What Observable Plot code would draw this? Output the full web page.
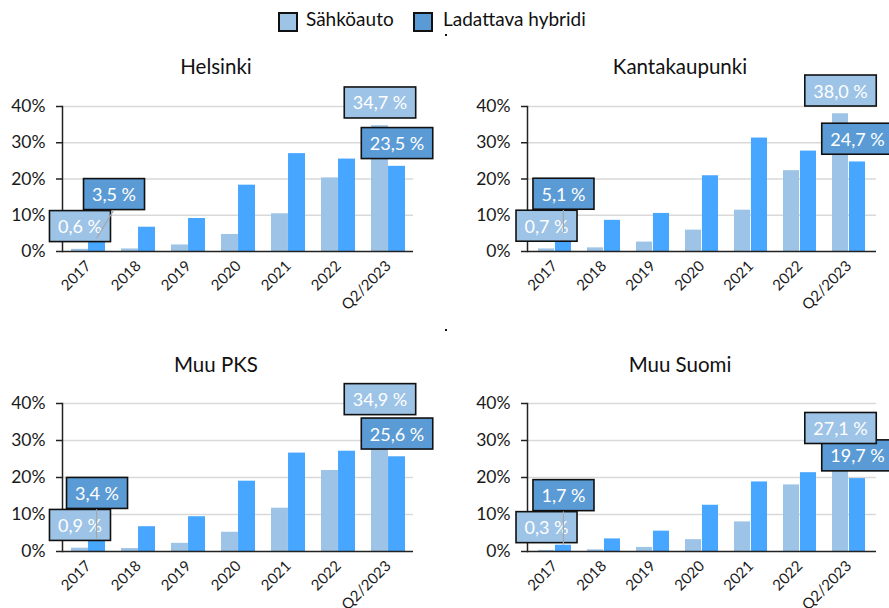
<!DOCTYPE html>
<html><head><meta charset="utf-8">
<script src="https://cdn.jsdelivr.net/npm/d3@7"></script>
<script src="https://cdn.jsdelivr.net/npm/@observablehq/plot@0.6"></script>
<style>
html,body{margin:0;padding:0;background:#fff;}
#root{position:relative;width:889px;height:608px;overflow:hidden;font-family:Lato,"Open Sans",sans-serif;}
.panel{position:absolute;}
.leg{position:absolute;top:12px;width:16px;height:16px;border:2px solid #111;}
.legt{position:absolute;top:7px;font-size:19px;color:#111;}
.dot{position:absolute;width:2px;height:2px;background:#111;}
</style>
</head><body>
<div id="root">
  <div class="leg" style="left:278px;background:#9DC3E6"></div>
  <div class="legt" style="left:306px">Sähköauto</div>
  <div class="leg" style="left:413px;background:#5B9BD5"></div>
  <div class="legt" style="left:443px">Ladattava hybridi</div>
  <div class="dot" style="left:445px;top:34px"></div>
  <div class="dot" style="left:445px;top:329px"></div>
</div>
<script>
const years = ["2017","2018","2019","2020","2021","2022","Q2/2023"];
const series = ["Sähköauto","Ladattava hybridi"];
const regions = ["Helsinki","Kantakaupunki","Muu PKS","Muu Suomi"];
const yTicks = [0,10,20,30,40];

const bevHelsinki  = [0.6, 0.7, 1.8, 4.7, 10.4, 20.3, 34.7];
const phevHelsinki = [3.5, 6.7, 9.1, 18.3, 27.0, 25.5, 23.5];
const bevKanta     = [0.7, 1.0, 2.6, 5.9, 11.4, 22.3, 38.0];
const phevKanta    = [5.1, 8.6, 10.5, 20.9, 31.3, 27.7, 24.7];
const bevPKS       = [0.9, 0.8, 2.2, 5.2, 11.7, 21.9, 34.9];
const phevPKS      = [3.4, 6.7, 9.4, 19.0, 26.6, 27.1, 25.6];
const bevSuomi     = [0.3, 0.45, 1.1, 3.2, 8.0, 18.0, 27.1];
const phevSuomi    = [1.7, 3.4, 5.5, 12.5, 18.8, 21.3, 19.7];

const regionData = [
  [bevHelsinki, phevHelsinki],
  [bevKanta, phevKanta],
  [bevPKS, phevPKS],
  [bevSuomi, phevSuomi]
];

const LIGHT = "#9DC3E6", DARK_BAR = "#47A6FF", DARK_LBL = "#5B9BD5";
const fmt = v => v.toFixed(1).replace(".", ",") + " %";

const layouts = [
  {left:0,   top:40,  width:445, height:270, ml:62, mr:32, mt:66, mb:59, tdy:-39, shift:17},
  {left:445, top:40,  width:444, height:270, ml:82, mr:13, mt:66, mb:59, tdy:-39, shift:0},
  {left:0,   top:340, width:445, height:268, ml:62, mr:32, mt:63, mb:57, tdy:-38, shift:0},
  {left:445, top:340, width:444, height:268, ml:82, mr:13, mt:63, mb:57, tdy:-38, shift:0}
];

const root = document.getElementById("root");
const PI = 0.32, PO = 0.16;
const ns = "http://www.w3.org/2000/svg";

regions.forEach((name, i) => {
  const L = layouts[i];
  const [bev, phev] = regionData[i];
  const rows = years.map((y, j) => ({year: y, bev: bev[j], phev: phev[j]}));
  const first = rows[0], last = rows[rows.length - 1];
  const bw = Plot.scale({x: {type: "band", domain: years, range: [L.ml, L.width - L.mr], paddingInner: PI, paddingOuter: PO}}).bandwidth;
  const half = bw / 2;
  const lblStyle = {fill: "white", fontSize: 18, textAnchor: "middle", lineAnchor: "middle"};
  const chart = Plot.plot({
    width: L.width, height: L.height,
    marginLeft: L.ml, marginRight: L.mr, marginTop: L.mt, marginBottom: L.mb,
    style: {fontFamily: "Lato, 'Open Sans', sans-serif", background: "transparent", overflow: "visible", color: "#1a1a1a"},
    x: {domain: years, paddingInner: PI, paddingOuter: PO, label: null},
    y: {domain: [0, 40], label: null},
    marks: [
      Plot.ruleY([10, 20, 30, 40], {stroke: "#d9d9d9", strokeWidth: 1.5}),
      Plot.barY(rows, {x: "year", y: "bev", fill: LIGHT, insetRight: half, insetLeft: 0}),
      Plot.barY(rows, {x: "year", y: "phev", fill: DARK_BAR, insetLeft: half, insetRight: 0}),
      Plot.ruleY([0], {stroke: "#222", strokeWidth: 1.5}),
      Plot.frame({anchor: "left", stroke: "#222", strokeWidth: 1.5}),
      Plot.axisY({ticks: yTicks, tickFormat: d => d + "%", tickSize: 6, tickPadding: 11, fontSize: 17.5, stroke: "#222", strokeWidth: 1.5, label: null}),
      Plot.axisX({tickRotate: -45, tickSize: 0, tickPadding: 12, fontSize: 15, label: null}),
      Plot.text([name], {frameAnchor: "top", lineAnchor: "middle", dx: -22, dy: L.tdy, fontSize: 20.5, fill: "#111"}),
      Plot.text([first], {x: "year", y: "bev", dx: bw / 4 + L.shift, dy: -54, text: d => fmt(d.phev), ariaLabel: () => "lbl-dark", ...lblStyle}),
      Plot.text([last], {x: "year", y: "phev", dx: bw / 4, dy: -22, text: d => fmt(d.phev), ariaLabel: () => "lbl-dark", ...lblStyle}),
      Plot.text([first, last], {x: "year", y: "bev", dx: -bw / 4, dy: -22, text: d => fmt(d.bev), ariaLabel: () => "lbl-light", ...lblStyle})
    ]
  });
  const wrap = document.createElement("div");
  wrap.className = "panel";
  wrap.style.left = L.left + "px";
  wrap.style.top = L.top + "px";
  wrap.appendChild(chart);
  root.appendChild(wrap);

  // label boxes
  chart.querySelectorAll('text[aria-label^="lbl"]').forEach(t => {
    const fill = t.getAttribute("aria-label") === "lbl-dark" ? DARK_LBL : LIGHT;
    const b = t.getBBox();
    const r = document.createElementNS(ns, "rect");
    const cy = b.y + b.height / 2;
    const tr = t.getAttribute("transform");
    if (tr) r.setAttribute("transform", tr);
    r.setAttribute("x", b.x - 8.5);
    r.setAttribute("y", cy - 15.5);
    r.setAttribute("width", b.width + 17);
    r.setAttribute("height", 31);
    r.setAttribute("fill", fill);
    r.setAttribute("stroke", "#111");
    r.setAttribute("stroke-width", 1.6);
    t.parentNode.insertBefore(r, t);
  });
  // leader line for first dark label
  const xs = chart.scale("x"), ys = chart.scale("y");
  const px = xs.apply(first.year) + 3 * bw / 4;
  const y1 = ys.apply(first.phev);
  const y2 = ys.apply(first.bev) - 54 + 15.5;
  const ln = document.createElementNS(ns, "line");
  ln.setAttribute("x1", px); ln.setAttribute("y1", y1);
  ln.setAttribute("x2", px + L.shift); ln.setAttribute("y2", y2);
  ln.setAttribute("stroke", "#a6a6a6"); ln.setAttribute("stroke-width", 1.2);
  chart.appendChild(ln);
});
</script>
</body></html>
